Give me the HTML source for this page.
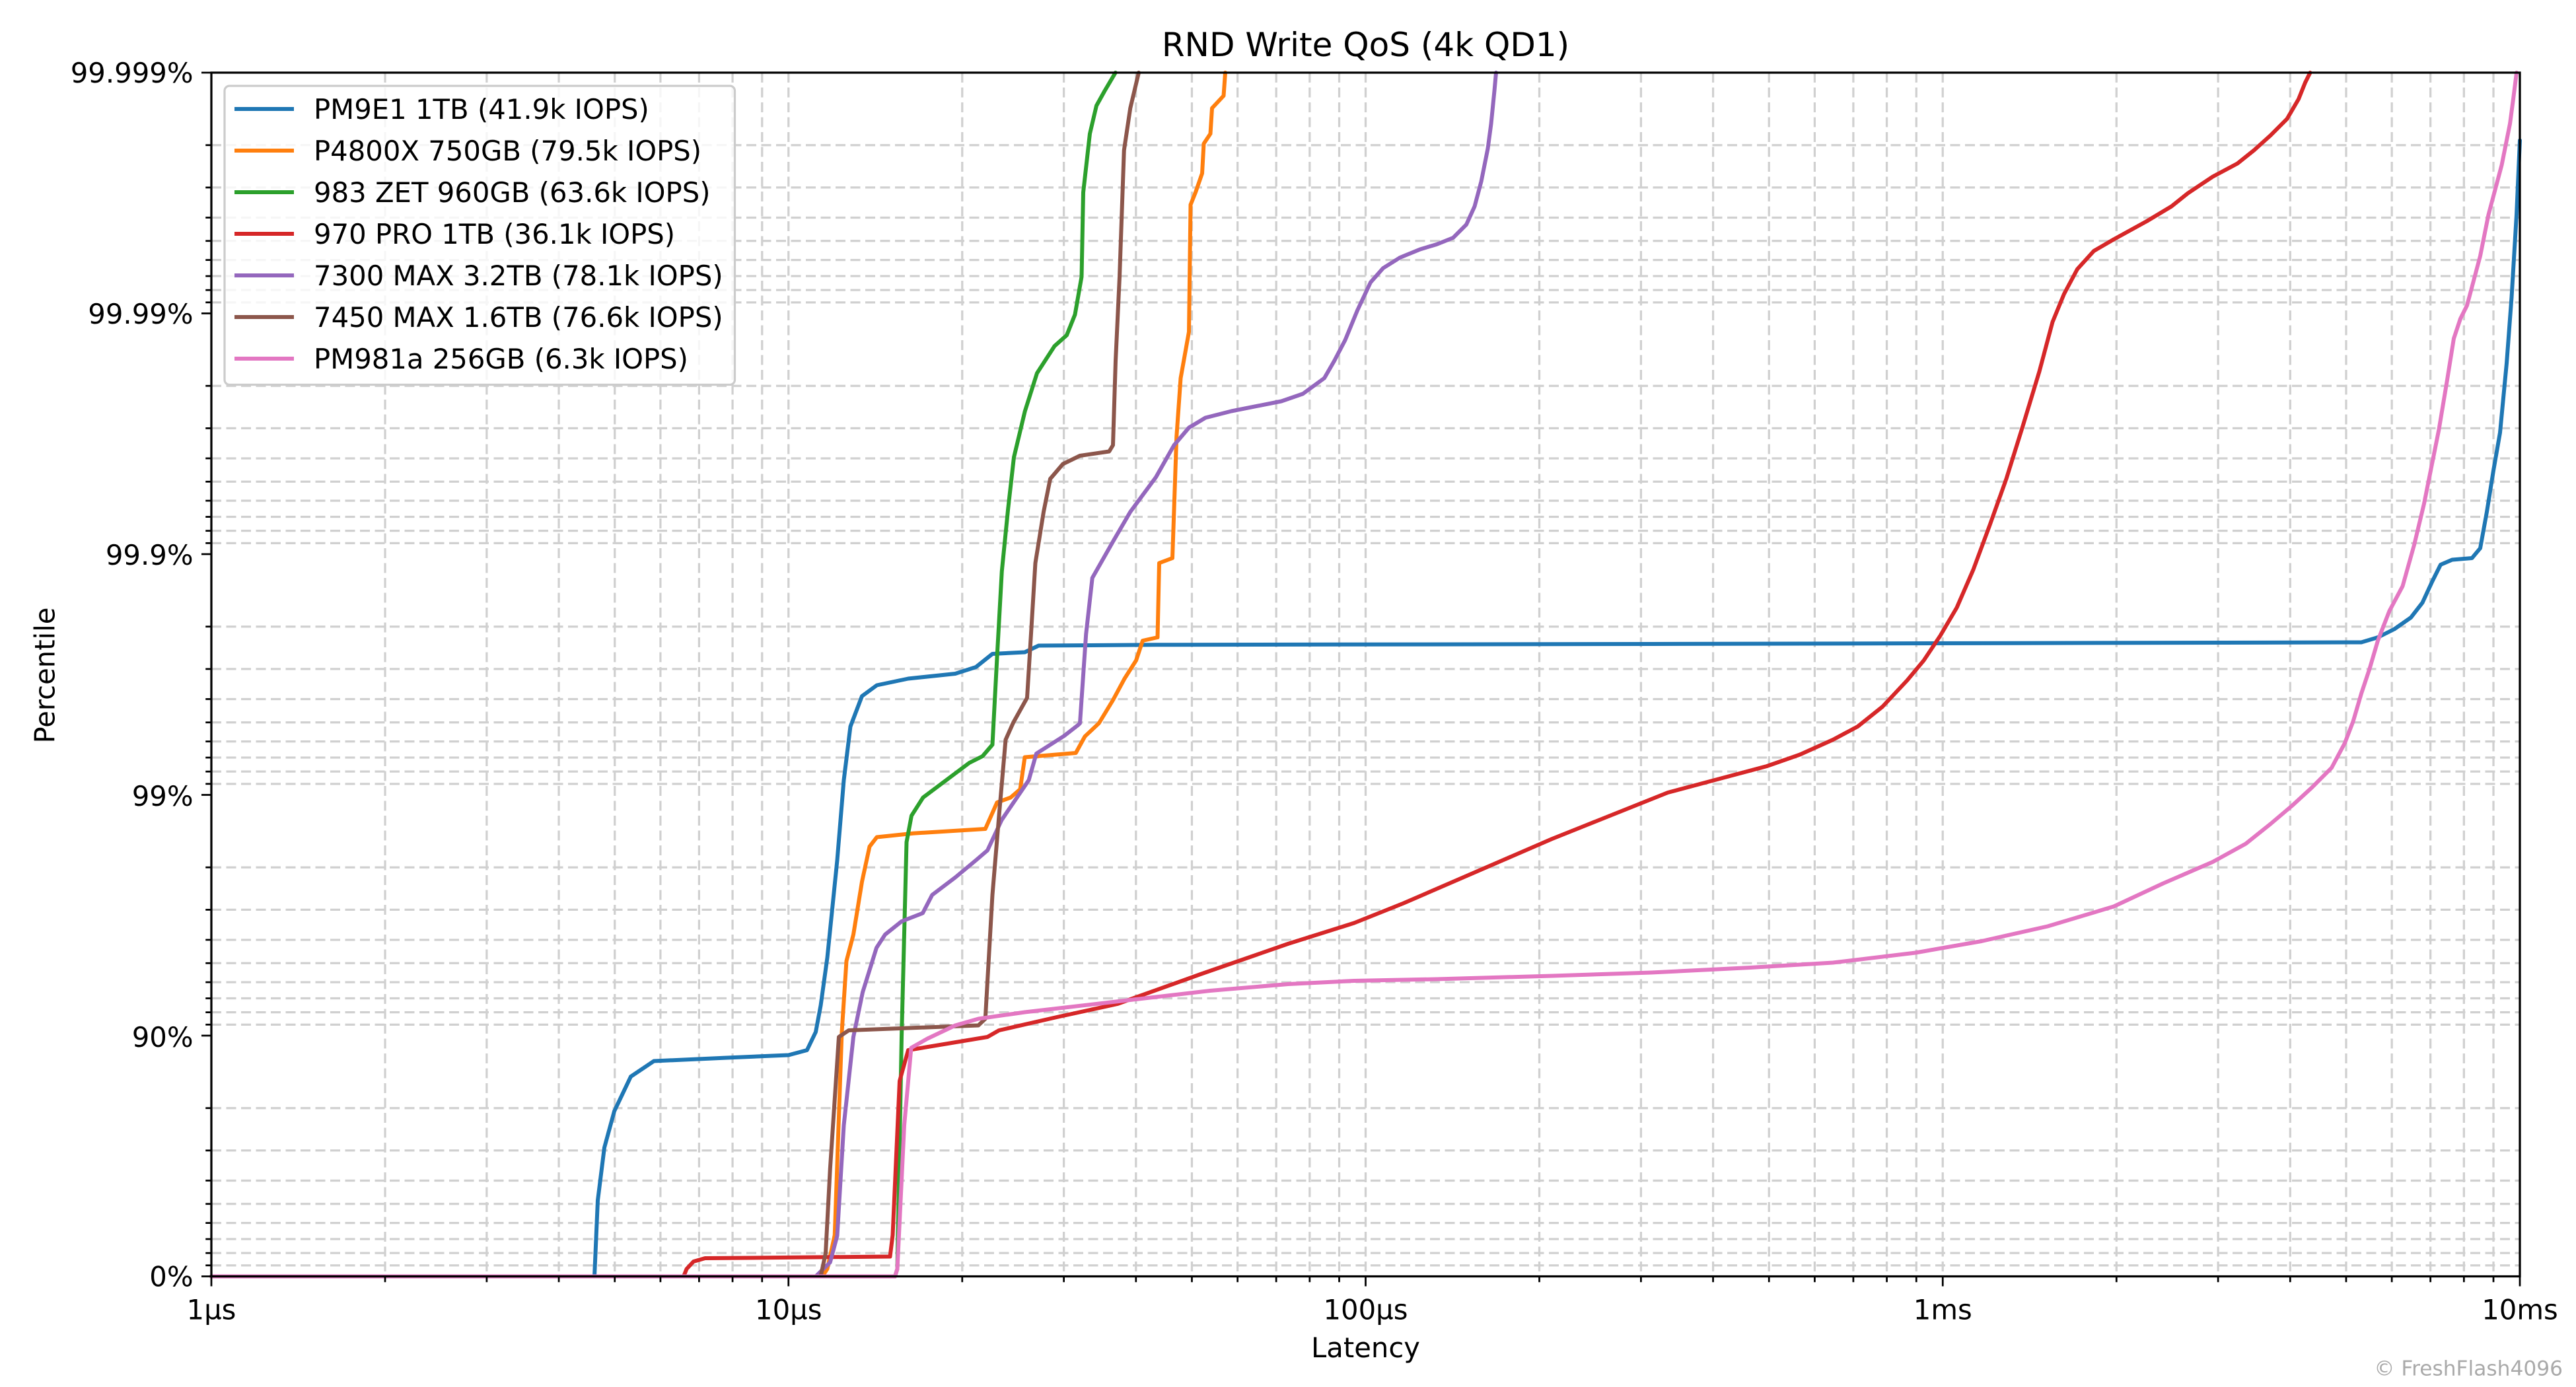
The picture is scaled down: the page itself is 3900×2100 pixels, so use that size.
<!DOCTYPE html>
<html><head><meta charset="utf-8"><style>
html,body{margin:0;padding:0;background:#fff;}
svg{display:block;}
text{font-family:"DejaVu Sans","Liberation Sans",sans-serif;fill:#000;}
</style></head><body>
<svg id="s" width="3900" height="2100" viewBox="0 0 1560 840" xmlns="http://www.w3.org/2000/svg">
<rect width="1560" height="840" fill="#fff"/>
<g id="grid"></g>
<g id="lines" fill="none" stroke-width="2.4" stroke-linejoin="round" stroke-linecap="round"></g>
<g id="axes"></g>
<text x="827" y="34" font-size="20" text-anchor="middle">RND Write QoS (4k QD1)</text>
<text x="827" y="822" font-size="16.7" text-anchor="middle">Latency</text>
<text transform="translate(33,409) rotate(-90)" font-size="16.7" text-anchor="middle">Percentile</text>
<text x="1552" y="833" font-size="12.5" text-anchor="end" style="fill:#aaaaaa">© FreshFlash4096</text>
<g font-size="16.7" text-anchor="end">
<text x="117" y="50">99.999%</text>
<text x="117" y="196">99.99%</text>
<text x="117" y="342">99.9%</text>
<text x="117" y="488">99%</text>
<text x="117" y="634">90%</text>
<text x="117" y="779">0%</text>
</g>
<g font-size="16.7" text-anchor="middle">
<text x="128" y="799">1µs</text>
<text x="477.5" y="799">10µs</text>
<text x="827" y="799">100µs</text>
<text x="1176.5" y="799">1ms</text>
<text x="1526" y="799">10ms</text>
</g>
<g id="legend">
<rect x="136" y="52" width="309" height="181" rx="3" fill="#fff" fill-opacity="0.8" stroke="#cccccc" stroke-width="1.3"/>
</g>
</svg>
<script>
const NS="http://www.w3.org/2000/svg";
const L=128,R=1526,T=44,B=773,DW=(R-L)/4,DH=(B-T)/5;
function el(p,tag,a){const e=document.createElementNS(NS,tag);for(const k in a)e.setAttribute(k,a[k]);p.appendChild(e);return e;}
const g=document.getElementById('grid'),ax=document.getElementById('axes');
const gs={stroke:"#d0d0d0","stroke-width":1.3,"stroke-dasharray":"6,3"};
// vertical
for(let d=0;d<4;d++){for(let m=1;m<=9;m++){const x=L+DW*(d+Math.log10(m));
 if(!(d===0&&m===1))el(g,'line',Object.assign({x1:x,x2:x,y1:T,y2:B},gs));
 el(ax,'line',{x1:x,x2:x,y1:B,y2:B+(m===1?6:3.5),stroke:"#000","stroke-width":1.1});}}
el(ax,'line',{x1:R,x2:R,y1:B,y2:B+6,stroke:"#000","stroke-width":1.1});
// horizontal
for(let k=0;k<5;k++){for(let m=10;m>=2;m--){const off=k+1-Math.log10(m);const y=B-DH*off;
 if(m!==10){el(g,'line',Object.assign({x1:L,x2:R,y1:y,y2:y},gs));}
 el(ax,'line',{y1:y,y2:y,x1:L,x2:L-(m===10?6:3.5),stroke:"#000","stroke-width":1.1});}}
el(ax,'line',{y1:T,y2:T,x1:L,x2:L-6,stroke:"#000","stroke-width":1.1});
el(ax,'rect',{x:L,y:T,width:R-L,height:B-T,fill:"none",stroke:"#000","stroke-width":1.3});
const S=[
["#1f77b4",[128,773,360,773,362,727,366,695,372,673,382,652,396,642.6,438,640.7,477.5,639,488.7,636,494,625,497,609,501,580,507,521,511,472.5,515,440,522,421.6,531,415,550,411,578.5,408,591,404,601,396,620.6,395,629,391,700,390.5,1000,390,1430,389,1440,386,1450,381,1460,374,1467,365,1473,352,1478,342,1485,339,1497,338,1502,332,1506,310,1510,285,1514,262,1518,220,1521,180,1524,130,1526,85]],
["#ff7f0e",[128,773,498,773,501,768.5,505.5,748,509.8,625,512.6,582,516.8,566,522,534,526.6,512.7,531,507,553,504.7,596.7,502,603.8,486,612,483,617.8,478,620.6,458.6,651.5,456,657,446,665.5,438,674,424,681,411,688,400,692,388,701,386,702,341,710,338,712.5,264.5,715,229,720,201,721,124,724,116.5,728,105,729,87,733,81,734,65.5,741,58,742,44]],
["#2ca02c",[128,773,542,773,543.4,768.5,546,628,549,510,552,494,559,483,573,472.5,587,462,595,458,601,451,604,394.6,606.7,346,610.5,308,614,277,620.7,249,628,226,638.6,209.6,646,203,651,190.5,655,167.6,656,116.5,660,81,664,64,669,55,675.5,44]],
["#d62728",[128,773,414,773,415.8,768.5,420,764,427,762,539,761,540.6,748,544.8,654.7,550,636,598,628,605,624,640,616,676.7,608,727,590,780,571.6,820,559,850,547,880,534,910,521,940,508,960,500,990,488,1010,480,1040,472,1070,464,1090,457,1110,448,1125,440,1140,428,1155,412,1165,400,1175,385,1185,368,1195,345,1205,318,1215,290,1225,258,1235,225,1243,195,1250,178,1258,163,1268,152,1280,145,1300,134,1315,125,1325,117,1340,107,1355,99,1365,91,1375,82,1385,72,1392,60,1396,50,1399,44]],
["#9467bd",[128,773,494,773,502.7,764.5,507,748.4,511,681.5,516.8,628,522.4,601,530.8,574,536,566,546,558,558.8,553,564.5,542,578.5,531.4,591,521,598,515,606.6,496.6,623,472.5,627.6,456.4,644.4,445.7,653,439,654,438,657.7,384,661.5,350,674,328,684.5,310,700,289,711,269.6,720,259,730,253,745.7,249,776,243,789,238.5,802,229,808,218.6,814.6,206,822,188,830,171,837.6,162.4,847.8,156,860,151,870,148,880,144,888,136,893,125,897,110,901,90,903,75,905,55,906,44]],
["#8c564b",[128,773,497,773,500,759,502.7,708,508,628,514,624,592.5,621,596.7,617,601,542,605,494,609,448,613.6,437.7,622,422.6,624.5,382,627,341,632,310,636,290,643.7,281,654,276,671.7,273.4,674,269.6,675.6,218.6,678,167.6,680.7,91,684.5,65.5,689.6,44]],
["#e377c2",[128,773,542,773,543.4,768.5,547.6,681.5,551.8,634.6,561.7,629,578.5,621,592.5,617,620.6,613,676.7,606.5,732.8,600,780,596,820,594,870,593,940,591,1000,589,1060,586,1110,583,1160,577,1200,570,1240,561,1280,549,1310,535,1340,522,1360,511,1375,499,1388,488,1400,477,1412,465,1420,450,1425,437,1430,420,1435,405,1440,388,1447,370,1455,355,1462,330,1468,305,1472,285,1477,260,1482,230,1486,205,1490,193,1494,185,1498,170,1502,155,1507,130,1511,115,1515,100,1518,85,1520,75,1522,60,1524,44]]
];
const lg=document.getElementById('lines');
S.forEach(s=>{let p=[];for(let i=0;i<s[1].length;i+=2)p.push(s[1][i]+","+s[1][i+1]);el(lg,'polyline',{points:p.join(" "),stroke:s[0]});});
const names=["PM9E1 1TB (41.9k IOPS)","P4800X 750GB (79.5k IOPS)","983 ZET 960GB (63.6k IOPS)","970 PRO 1TB (36.1k IOPS)","7300 MAX 3.2TB (78.1k IOPS)","7450 MAX 1.6TB (76.6k IOPS)","PM981a 256GB (6.3k IOPS)"];
const leg=document.getElementById('legend');
names.forEach((n,i)=>{const y=66+i*25.2;
 el(leg,'line',{x1:142,x2:178,y1:y,y2:y,stroke:S[i][0],"stroke-width":2.4});
 const t=el(leg,'text',{x:190,y:y+6,"font-size":"16.7"});t.textContent=n;});
</script>
</body></html>
